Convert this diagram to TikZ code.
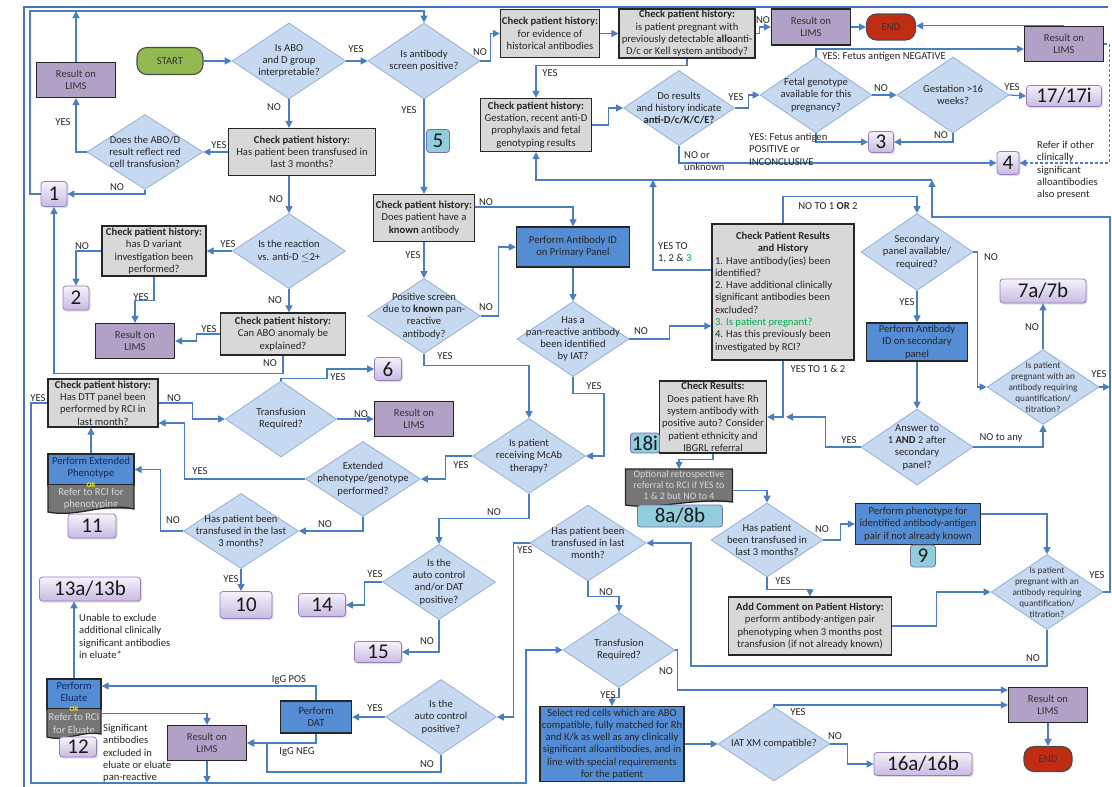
\documentclass[tikz,border=0pt]{standalone}
\usepackage{fontspec}
\setmainfont{Carlito}
\usetikzlibrary{arrows.meta,shapes.geometric,shadows}
\definecolor{lb}{RGB}{74,126,193}
\definecolor{frameblue}{RGB}{68,114,196}
\definecolor{dfill}{RGB}{198,217,240}
\definecolor{dbd}{RGB}{140,170,210}
\definecolor{gfill}{RGB}{216,216,216}
\definecolor{pfill}{RGB}{178,161,199}
\definecolor{bfill}{RGB}{84,141,212}
\definecolor{startg}{RGB}{146,186,80}
\definecolor{endr}{RGB}{192,45,20}
\definecolor{docgray}{RGB}{118,118,118}
\definecolor{doctxt}{RGB}{215,215,215}
\definecolor{nbt}{RGB}{245,242,251}
\definecolor{nbb}{RGB}{200,186,226}
\definecolor{nbd}{RGB}{150,125,190}
\definecolor{ncf}{RGB}{146,205,221}
\definecolor{ncd}{RGB}{120,110,170}
\definecolor{ggreen}{RGB}{0,176,80}
\definecolor{navytxt}{RGB}{20,40,90}
\newcommand\fontBox{\fontsize{10.6}{12.3}\selectfont}
\newcommand\fontSm{\fontsize{9.2}{11}\selectfont}
\newcommand\fontOpt{\fontsize{10}{11}\selectfont}
\newcommand\fontNum{\fontsize{21}{22}\selectfont}
\newcommand\fontOr{\fontsize{7}{7}\selectfont\bfseries}
\tikzset{
 ln/.style={draw=lb,line width=1.2pt},
 arr/.style={draw=lb,line width=1.2pt,-{Triangle[length=7pt,width=7pt]}},
 sz/.style 2 args={minimum width=#1pt,minimum height=#2pt},
 dia/.style={diamond,draw=dbd,fill=dfill,line width=0.7pt,inner sep=0pt},
 dt/.style={align=center,font=\fontBox,inner sep=0pt,text=black!85},
 dts/.style={align=center,font=\fontSm,inner sep=0pt,text=black!80},
 gbox/.style={rectangle,draw=black!85,line width=1.3pt,fill=gfill,align=center,font=\fontBox,inner sep=1pt,text=black!85},
 lims/.style={rectangle,draw=black!85,line width=1.3pt,fill=pfill,align=center,font=\fontBox,inner sep=1pt,minimum width=79pt,minimum height=35pt,text=black!80},
 bbox/.style={rectangle,draw=black!85,line width=1.3pt,fill=bfill,align=center,font=\fontBox,inner sep=1pt,text=black!85},
 term/.style={rectangle,rounded corners=10pt,draw=black!70,line width=1.1pt,font=\fontBox,inner sep=1pt,text=black!80},
 nb/.style={rectangle,rounded corners=3pt,draw=nbd,line width=0.8pt,top color=nbt,bottom color=nbb,font=\fontNum,inner sep=0pt,text=black!90,drop shadow={shadow xshift=1.5pt,shadow yshift=-1.5pt,opacity=0.25}},
 nc/.style={rectangle,rounded corners=3pt,draw=ncd,line width=0.8pt,fill=ncf,font=\fontNum,inner sep=0pt,text=black!90},
 docg/.style={rectangle,fill=docgray,text=doctxt,align=center,font=\fontBox,inner sep=1pt},
 lab/.style={font=\fontBox,inner sep=0pt,text=black!85},
 inlab/.style={font=\fontBox,align=center,inner sep=0pt},
}
\begin{document}
\begin{tikzpicture}[x=1pt,y=-1pt]
\useasboundingbox (0,0) rectangle (1112,787);
\fill[white] (0,0) rectangle (1112,787);
\draw[frameblue,line width=2pt] (24,787) -- (24,7) -- (1108,7);

% ---------- terminals
\node[term,fill=startg,sz={66}{27}] (start) at (170,61) {START};
\node[term,fill=endr,sz={49}{26}] (end1) at (891,27) {END};
\node[term,fill=endr,sz={48}{25}] (end2) at (1048,759) {END};

% ---------- diamonds
\node[dia,sz={114}{76},label={[dt]center:{Is ABO\\and D group\\interpretable?}}] (d1) at (289,61) {};
\node[dia,sz={112}{76},label={[dt]center:{Is antibody\\screen positive?}}] (d2) at (424,61) {};
\node[dia,sz={116}{75},label={[dt]center:{Does the ABO/D\\result reflect red\\cell transfusion?}}] (d3) at (145,152) {};
\node[dia,sz={113}{75},label={[dt]center:{Is the reaction\\vs. anti-D $\leq$2+}}] (d4) at (289,251) {};
\node[dia,sz={112}{76},label={[dt]center:{Fetal genotype\\available for this\\pregnancy?}}] (d5) at (816,95) {};
\node[dia,sz={112}{76},label={[dt]center:{Gestation >16\\weeks?}}] (d6) at (953,95) {};
\node[dia,sz={111}{75},label={[dt]center:{Do results\\and history indicate\\\textbf{anti-D/c/K/C/E?}}}] (d7) at (679,108) {};
\node[dia,sz={113}{75},label={[dt]center:{Positive screen\\due to \textbf{known} pan-\\reactive\\antibody?}}] (d8) at (424,316) {};
\node[dia,sz={112}{75},label={[dt]center:{Has a\\pan-reactive antibody\\been identified\\by IAT?}}] (d9) at (573,339) {};
\node[dia,sz={112}{77},label={[dt]center:{Secondary\\panel available/\\required?}}] (d10) at (917,252) {};
\node[dia,sz={112}{76},label={[dt]center:{Answer to\\1 \textbf{AND} 2 after\\secondary\\panel?}}] (d11) at (917,447) {};
\node[dia,sz={112}{75},label={[dts]center:{Is patient\\pregnant with an\\antibody requiring\\quantification/\\titration?}}] (d12) at (1043,387) {};
\node[dia,sz={112}{74},label={[dt]center:{Has patient\\been transfused in\\last 3 months?}}] (d13) at (767,540) {};
\node[dia,sz={112}{75},label={[dts]center:{Is patient\\pregnant with an\\antibody requiring\\quantification/\\titration?}}] (d14) at (1047,592) {};
\node[dia,sz={113}{75},label={[dt]center:{Is patient\\receiving McAb\\therapy?}}] (d15) at (529,456) {};
\node[dia,sz={115}{75},label={[dt]center:{Extended\\phenotype/genotype\\performed?}}] (d16) at (363,479) {};
\node[dia,sz={111}{76},label={[dt]center:{Transfusion\\Required?}}] (d17) at (281,419) {};
\node[dia,sz={115}{75},label={[dt]center:{Has patient been\\transfused in the last\\3 months?}}] (d18) at (241,531) {};
\node[dia,sz={113}{75},label={[dt]center:{Is the\\auto control\\and/or DAT\\positive?}}] (d19) at (439,582) {};
\node[dia,sz={111}{75},label={[dt]center:{Is the\\auto control\\positive?}}] (d20) at (441,717) {};
\node[dia,sz={116}{76},label={[dt]center:{Has patient been\\transfused in last\\month?}}] (d21) at (588,543) {};
\node[dia,sz={112}{75},label={[dt]center:{Transfusion\\Required?}}] (d22) at (619,650) {};
\node[dia,sz={112}{74},label={[dt]center:{IAT XM compatible?}}] (d23) at (774,744) {};

% ---------- grey boxes
\node[gbox,sz={147}{47}] (g6) at (302,152) {\textbf{Check patient history:}\\Has patient been transfused in\\last 3 months?};
\node[gbox,sz={104}{50}] (gDvar) at (154,251) {\textbf{Check patient history:}\\has D variant\\investigation been\\performed?};
\node[gbox,sz={125}{42}] (gABO) at (283,334) {\textbf{Check patient history:}\\Can ABO anomaly be\\explained?};
\node[gbox,sz={101}{47}] (gKnown) at (424,218) {\textbf{Check patient history:}\\Does patient have a\\\textbf{known} antibody};
\node[gbox,sz={99}{48}] (g7) at (550,33.5) {\textbf{Check patient history:}\\for evidence of\\historical antibodies};
\node[gbox,sz={136}{49}] (g8) at (687,33.5) {\textbf{Check patient history:}\\is patient pregnant with\\previously detectable \textbf{allo}anti-\\D/c or Kell system antibody?};
\node[gbox,sz={111}{53}] (g17) at (536,125) {\textbf{Check patient history:}\\Gestation, recent anti-D\\prophylaxis and fetal\\genotyping results};
\node[gbox,sz={142}{136}] (gCPR) at (783,292) {\parbox{136pt}{\centering\textbf{Check Patient Results\\and History}\par\raggedright 1. Have antibody(ies) been\\identified?\\2. Have additional clinically\\significant antibodies been\\excluded?\\\textcolor{ggreen}{3. Is patient pregnant?}\\4. Has this previously been\\investigated by RCI?}};
\node[gbox,sz={107}{72}] (gRes) at (713,417) {\textbf{Check Results:}\\Does patient have Rh\\system antibody with\\positive auto? Consider\\patient ethnicity and\\IBGRL referral};
\node[gbox,sz={110}{48}] (gDTT) at (103,403) {\textbf{Check patient history:}\\Has DTT panel been\\performed by RCI in\\last month?};
\node[gbox,sz={163}{58}] (gAdd) at (810,626) {\textbf{Add Comment on Patient History:}\\perform antibody-antigen pair\\phenotyping when 3 months post\\transfusion (if not already known)};

% ---------- result boxes
\node[lims] (r1) at (76,80) {Result on\\LIMS};
\node[lims] (r2) at (135,341) {Result on\\LIMS};
\node[lims,minimum height=36pt] (r3) at (811,27) {Result on\\LIMS};
\node[lims] (r4) at (1064,44) {Result on\\LIMS};
\node[lims] (r5) at (414,419) {Result on\\LIMS};
\node[lims] (r6) at (207,743) {Result on\\LIMS};
\node[lims] (r7) at (1048,705) {Result on\\LIMS};

% ---------- blue boxes
\node[bbox,sz={113}{40}] (bP) at (573,247) {Perform Antibody ID\\on Primary Panel};
\node[bbox,sz={101}{38}] (bS) at (917,342) {Perform Antibody\\ID on secondary\\panel};
\node[bbox,sz={125}{41}] (bPh) at (918,524) {Perform phenotype for\\identified antibody-antigen\\pair if not already known};
\node[bbox,sz={144}{75}] (bSel) at (612,744) {Select red cells which are ABO\\compatible, fully matched for Rh\\and K/k as well as any clinically\\significant alloantibodies, and in\\line with special requirements\\for the patient};
\node[bbox,sz={71}{32}] (bDAT) at (316,717) {Perform\\DAT};

% ---------- document shapes
\node[bbox,sz={86}{31},label={[inlab,text=navytxt,yshift=2pt]center:{Perform Extended\\Phenotype}}] (eTop) at (91,469.5) {};
\node[docg,sz={86}{24},label={[inlab,text=doctxt,yshift=-2pt]center:{Refer to RCI for\\phenotyping}}] (eBot) at (91,497) {};
\fill[docgray] (48,509) -- (48,512) .. controls (78,518) and (104,502) .. (134,509) -- cycle;
\draw[black!85,line width=1.3pt] (48,485) -- (48,512) .. controls (78,518) and (104,502) .. (134,509) -- (134,485);
\node[font=\fontOr,text=yellow,inner sep=0pt] (or1) at (91,485.5) {OR};

\node[bbox,sz={54}{30},label={[inlab,text=navytxt,yshift=2pt]center:{Perform\\Eluate}}] (elTop) at (74,694) {};
\node[docg,sz={54}{25},label={[inlab,text=doctxt,yshift=-2pt]center:{Refer to RCI\\for Eluate}}] (elBot) at (74,721.5) {};
\fill[docgray] (47,734) -- (47,737) .. controls (66,742) and (84,730) .. (101,734) -- cycle;
\draw[black!85,line width=1.3pt] (47,709) -- (47,737) .. controls (66,742) and (84,730) .. (101,734) -- (101,709);
\node[font=\fontOr,text=yellow,inner sep=0pt] (or2) at (74,709.5) {OR};

\node[docg,sz={107}{33},font=\fontOpt] (opt) at (679,485.5) {Optional retrospective\\referral to RCI if YES to\\1 \& 2 but NO to 4};
\fill[docgray] (625.5,502) -- (625.5,505) .. controls (655,510) and (700,497) .. (732.5,502) -- cycle;
\draw[black!85,line width=1.3pt] (625.5,469) -- (732.5,469) -- (732.5,502) .. controls (700,497) and (655,510) .. (625.5,505) -- cycle;

% ---------- number boxes
\node[nb,sz={26}{25}] (n1) at (54,194) {1};
\node[nb,sz={26}{24}] (n2) at (76,298) {2};
\node[nb,sz={25}{21}] (n3) at (881,142) {3};
\node[nb,sz={22}{23}] (n4) at (1008,163) {4};
\node[nb,sz={27}{23}] (n6) at (388,369) {6};
\node[nb,sz={86}{24}] (n7) at (1043,291) {7a/7b};
\node[nb,sz={52}{27}] (n10) at (246,605) {10};
\node[nb,sz={48}{24}] (n11) at (92,526) {11};
\node[nb,sz={37}{20}] (n12) at (78,747) {12};
\node[nb,sz={101}{24}] (n13) at (90,589) {13a/13b};
\node[nb,sz={47}{23}] (n14) at (322,605) {14};
\node[nb,sz={47}{21}] (n15) at (378,652) {15};
\node[nb,sz={98}{23}] (n16) at (923,764) {16a/16b};
\node[nb,sz={75}{21}] (n17) at (1064,96) {17/17i};
\node[nc,sz={23}{23}] (c5) at (438,141) {5};
\node[nc,sz={29}{20}] (c18) at (645,443) {18i};
\node[nc,sz={85}{22}] (c8) at (680,516) {8a/8b};
\node[nc,sz={25}{22}] (c9) at (923,556) {9};

% ---------- helper coordinates
\coordinate (tb1) at (76,11);
\coordinate (busR) at (932,180);
\coordinate (busM) at (653,180);
\coordinate (busV) at (1110,387);
\coordinate (m1) at (786,417);
\coordinate (bb) at (207,783);

% ---------- connectors
\draw[arr] (start) -- (d1);
\draw[arr] (d1.east) -- (d2.west);
\draw[arr] (d1.south) -- (d1.south |- g6.north);
\draw[arr] (g6.west) -- (d3.east);
\draw[arr] (d3.west) -| (r1.south);
\draw[arr] (d3.south) |- (n1.east);
\draw[arr] (r1.north) -- (tb1);
\draw[arr] (n1.west) -- (30,194) -- (30,11) -| (d2.north);
\draw[arr] (g6.south -| d4.north) -- (d4.north);
\draw[arr] (d4.west) -- (gDvar.east);
\draw[arr] (gDvar.west) -| (n2.north);
\draw[arr] (gDvar.south) -- ++(0,24) -| (r2.north);
\draw[arr] (d4.south) -- (d4.south |- gABO.north);
\draw[arr] (gABO.west) -- ++(-23,0) |- (r2.east);
\draw[arr] (gABO.south) -- ++(0,18) -| (n1.south);
\draw[arr] (d2.east) -- ++(10,0) |- (g7.west);
\draw[arr] (d2.south) -- (gKnown.north);
\draw[arr] (g7.east) -- (g8.west);
\draw[arr] (g8.east) -- ++(4,0) |- (r3.west);
\draw[arr] (r3.east) -- (end1.west);
\draw[arr] (r4.north) -- (r4.north -| end1.east);
\draw[arr] (g8.south) -- ++(0,7) -| (g17.north);
\draw[arr] (g17.east) -- ++(16,0) |- (d7.west);
\draw[arr] (d7.east) -- ++(14,0) |- (d5.west);
\draw[arr] (d5.north) |- ([yshift=-5pt]r4.west);
\draw[arr] (d5.east) -- (d6.west);
\draw[arr] (d6.east) -- (n17.west);
\draw[arr] (d6.south) |- (n3.east);
\draw[arr] (d5.south) |- (n3.west);
\draw[arr] (d7.south) |- (n4.west);
\draw[arr,dash pattern=on 3pt off 2pt] (r4.east) -- ++(5,0) |- (n4.east);
\draw[arr] (d14.east) -- (1110,592) -- (1110,217) -| (busR);
\draw[arr] (d12.east) -- (busV);
\draw[arr] (busR) -| (g17.south);
\draw[arr] ([yshift=22pt]gCPR.west) -| (busM);
\draw[arr] (gCPR.north) -- ++(0,-27) -| (d10.north);
\draw[arr] ([yshift=11pt]gKnown.east) -| (bP.north);
\draw[arr] (d8.east) -- ++(18,0) |- (bP.west);
\draw[arr] (gKnown.south) -- (d8.north);
\draw[arr] (bP.south) -- (d9.north);
\draw[arr] (d9.east) -- ++(40,0) |- ([yshift=-34pt]gCPR.west);
\draw[arr] (d9.south) -- ++(0,17) -- ++(31,0) |- (d15.east);
\draw[arr] (d8.south) -- ++(0,12) -| (d15.north);
\draw[arr] (d15.west) -- ++(-27,0) |- (d16.east);
\draw[arr] (d15.south) -- ++(0,25) -| (d19.north);
\draw[arr] (d16.west) -- ++(-121,0) |- ([yshift=-20pt]gDTT.east);
\draw[arr] (d16.south) |- (d18.east);
\draw[arr] (d18.west) -- ++(-23,0) |- (eTop.east);
\draw[arr] (d18.south) -- (d18.south |- n10.north);
\draw[arr] (eTop.north) -- (eTop.north |- gDTT.south);
\draw[arr] (gDTT.east) -- ++(34,0) |- (d17.west);
\draw[arr] (gDTT.west) -| (31,783) -- (526,783) |- (d22.west);
\draw[arr] (d17.east) -- (r5.west);
\draw[arr] (d17.north) -- ++(0,-2) -- ++(46,0) |- (n6.west);
\draw[arr] (d19.west) -- ++(-18,0) |- (n14.east);
\draw[arr] (d19.south) |- (n15.east);
\draw[arr] (d21.west) -- ++(-16,0) |- (d20.east);
\draw[arr] (d20.west) -- (bDAT.east);
\draw[arr] (bDAT.north) |- ([yshift=8pt]elTop.east);
\draw[arr] (bDAT.south) |- (r6.east);
\draw[arr] (d20.south) |- (267,772) |- (r6.east);
\draw[arr] ([yshift=8pt]elBot.east) -| (r6.north);
\draw[arr] (elTop.north) -- (elTop.north |- n13.south);
\draw[arr] (r6.south) -- (bb);
\draw[arr] (d21.south) -- ++(0,15) -| (d22.north);
\draw[arr] (d22.south) -- ++(0,10) -| (bSel.north);
\draw[arr] (d22.east) -- ++(2,0) |- ([yshift=15pt]r7.west);
\draw[arr] (d23.north) |- (r7.west);
\draw[arr] (d23.east) -- ++(17,0) |- (n16.west);
\draw[arr] (bSel.east) -- (d23.west);
\draw[arr] (r7.south) -- (end2.north);
\draw[arr] (d14.south) |- (691,666) |- (d21.east);
\draw[arr] (gAdd.east) -- ++(44,0) |- (d14.west);
\draw[arr] (d13.south) -- ++(0,12) -| (gAdd.north);
\draw[arr] (d13.east) -- ++(17,0) |- (bPh.west);
\draw[arr] ([yshift=10pt]bPh.east) -| (d14.north);
\draw[arr] ([yshift=-5pt]opt.east) -| (d13.north);
\draw[arr] (gRes.south) -- ++(0,6) -| (opt.north);
\draw[arr] (gCPR.south) |- (gRes.east);
\draw[arr] (d11.west) -- ++(-35,0) |- (m1);
\draw[arr] (d11.east) -| (d12.south);
\draw[arr] (d10.east) -- ++(4,0) |- (d12.west);
\draw[arr] (d10.south) -- (bS.north);
\draw[arr] (bS.south) -- (d11.north);
\draw[arr] (d12.north) -- (n7.south);

% ---------- labels
\node[lab] (l1) at (356,49) {YES};
\node[lab] (l2) at (274,107) {NO};
\node[lab] (l3) at (480,52) {NO};
\node[lab] (l4) at (409,110) {YES};
\node[lab] (l5) at (219,145) {YES};
\node[lab] (l6) at (63,122) {YES};
\node[lab] (l7) at (117,187) {NO};
\node[lab] (l8) at (276,199) {NO};
\node[lab] (l9) at (228,244) {YES};
\node[lab] (l10) at (82,246) {NO};
\node[lab] (l11) at (141,297) {YES};
\node[lab] (l12) at (275,300) {NO};
\node[lab] (l13) at (209,329) {YES};
\node[lab] (l14) at (270,363) {NO};
\node[lab] (l15) at (486,202) {NO};
\node[lab] (l16) at (413,255) {YES};
\node[lab] (l17) at (486,307) {NO};
\node[lab] (l18) at (445,356) {YES};
\node[lab] (l19) at (641,331) {NO};
\node[lab] (l20) at (594,386) {YES};
\node[lab,align=left,anchor=north west] (l21) at (658,242) {YES TO\\1, 2 \& \textcolor{ggreen}{3}};
\node[lab] (l22) at (828,206) {NO TO 1 \textbf{OR} 2};
\node[lab] (l23) at (818,369) {YES TO 1 \& 2};
\node[lab] (l24) at (907,302) {YES};
\node[lab] (l25) at (991,257) {NO};
\node[lab] (l26) at (1032,327) {NO};
\node[lab] (l27) at (1099,374) {YES};
\node[lab] (l28) at (849,440) {YES};
\node[lab] (l29) at (1001,438) {NO to any};
\node[lab] (l30) at (461,465) {YES};
\node[lab] (l31) at (494,512) {NO};
\node[lab] (l32) at (200,471) {YES};
\node[lab] (l33) at (325,524) {NO};
\node[lab] (l34) at (173,520) {NO};
\node[lab] (l35) at (231,579) {YES};
\node[lab] (l36) at (38,398) {YES};
\node[lab] (l37) at (174,398) {NO};
\node[lab] (l38) at (338,377) {YES};
\node[lab] (l39) at (361,414) {NO};
\node[lab] (l40) at (375,574) {YES};
\node[lab] (l41) at (427,641) {NO};
\node[lab] (l42) at (289,680) {IgG POS};
\node[lab] (l43) at (297,752) {IgG NEG};
\node[lab] (l44) at (375,708) {YES};
\node[lab] (l45) at (427,764) {NO};
\node[lab] (l46) at (525,550) {YES};
\node[lab] (l47) at (606,592) {NO};
\node[lab] (l48) at (608,695) {YES};
\node[lab] (l49) at (666,671) {NO};
\node[lab] (l50) at (798,712) {YES};
\node[lab] (l51) at (835,736) {NO};
\node[lab] (l52) at (822,529) {NO};
\node[lab] (l53) at (783,581) {YES};
\node[lab] (l54) at (1097,575) {YES};
\node[lab] (l55) at (1033,658) {NO};
\node[lab] (l56) at (736,97) {YES};
\node[lab] (l57) at (881,88) {NO};
\node[lab] (l58) at (1012,87) {YES};
\node[lab] (l59) at (941,135) {NO};
\node[lab] (l60) at (884,57) {YES: Fetus antigen NEGATIVE};
\node[lab,align=left,anchor=north west] (l61) at (749,133) {YES: Fetus antigen\\POSITIVE or\\INCONCLUSIVE};
\node[lab,align=left,anchor=north west] (l62) at (684,151) {NO or\\unknown};
\node[lab] (l63) at (550,73) {YES};
\node[lab] (l64) at (763,20) {NO};
\node[lab,align=left,anchor=north west] (l65) at (1037,141) {Refer if other\\clinically\\significant\\alloantibodies\\also present};
\node[lab,align=left,anchor=north west] (l66) at (79,614) {Unable to exclude\\additional  clinically\\significant antibodies\\in eluate*};
\node[lab,align=left,anchor=north west] (l67) at (103,724) {Significant\\antibodies\\excluded in\\eluate or eluate\\pan-reactive};
\end{tikzpicture}
\end{document}
